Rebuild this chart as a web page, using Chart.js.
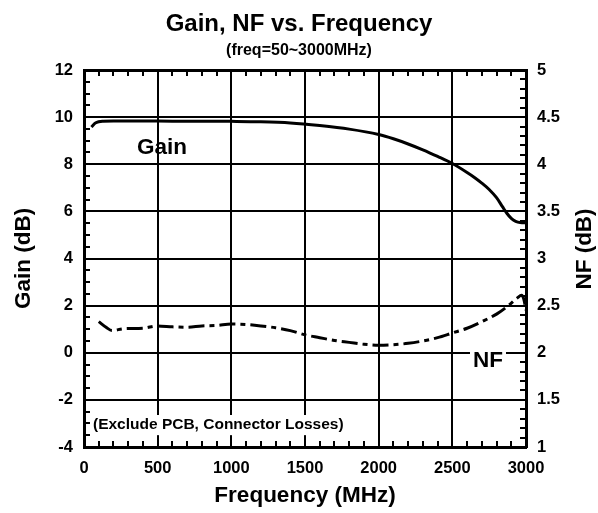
<!DOCTYPE html>
<html><head><meta charset="utf-8">
<script src="https://cdn.jsdelivr.net/npm/chart.js@4/dist/chart.umd.min.js"></script>
<style>html,body{margin:0;padding:0;background:#fff;}#wrap{width:598px;height:513px;}</style>
</head><body><div id="wrap"><canvas id="c" width="598" height="513"></canvas></div>
<script>
// ---- data ----
const gainFreq = [50, 80, 130, 200, 400, 600, 800, 1000, 1200, 1400, 1600, 1800, 2000, 2100, 2200, 2300, 2400, 2500, 2600, 2650, 2700, 2750, 2800, 2840, 2870, 2900, 2930, 2960, 3000];
const gainDb   = [9.58, 9.76, 9.83, 9.84, 9.84, 9.83, 9.83, 9.82, 9.80, 9.75, 9.64, 9.49, 9.26, 9.08, 8.86, 8.61, 8.33, 8.03, 7.65, 7.44, 7.20, 6.93, 6.58, 6.20, 5.92, 5.70, 5.58, 5.53, 5.52];
const nfFreq = [100, 150, 190, 270, 400, 500, 600, 700, 800, 900, 1000, 1100, 1200, 1300, 1400, 1500, 1600, 1700, 1800, 1900, 2000, 2100, 2200, 2300, 2400, 2500, 2600, 2700, 2800, 2880, 2940, 2970, 2985, 3000];
const nfDb   = [2.33, 2.27, 2.235, 2.255, 2.26, 2.285, 2.275, 2.27, 2.285, 2.29, 2.305, 2.30, 2.285, 2.265, 2.235, 2.19, 2.16, 2.13, 2.11, 2.09, 2.08, 2.085, 2.10, 2.125, 2.16, 2.21, 2.26, 2.33, 2.41, 2.50, 2.58, 2.61, 2.57, 2.45];
const freqRange = [0, 3000];
const gainRange = [-4, 12];
const nfRange = [1, 5];
const labelTexts = ['Gain', 'NF', '(Exclude PCB, Connector Losses)'];
const labelAt = [[360, 8.69], [2742, -0.35], [61, -3.07]];

const FAM = "'Liberation Sans', Arial, Helvetica, sans-serif";
const bold = s => ({family: FAM, size: s, weight: 'bold'});
const fmt = v => String(+Number(v).toFixed(2));

const minorTicks = {
  id: 'minorTicks',
  beforeDatasetsDraw(chart) {
    const {ctx, chartArea: a, scales} = chart;
    const L = 6;
    ctx.save(); ctx.strokeStyle = '#000'; ctx.lineWidth = 2; ctx.beginPath();
    for (let v = freqRange[0]; v <= freqRange[1]; v += 100) {
      const p = Math.round(scales.x.getPixelForValue(v));
      ctx.moveTo(p, a.top); ctx.lineTo(p, a.top + L);
      ctx.moveTo(p, a.bottom); ctx.lineTo(p, a.bottom - L);
    }
    for (let v = gainRange[0]; v <= gainRange[1]; v += 0.5) {
      const p = Math.round(scales.y.getPixelForValue(v));
      ctx.moveTo(a.left, p); ctx.lineTo(a.left + L, p);
    }
    for (let i = 0; i <= 40; i++) {
      const v = nfRange[0] + i * 0.1;
      const p = Math.round(scales.y2.getPixelForValue(v));
      ctx.moveTo(a.right, p); ctx.lineTo(a.right - L, p);
    }
    ctx.stroke();
    const fonts = [22.5, 22.5, 15.5];
    const align = ['left', 'center', 'left'];
    const boxed = [false, true, true];
    for (let i = 0; i < labelTexts.length; i++) {
      const x = scales.x.getPixelForValue(labelAt[i][0]);
      const y = scales.y.getPixelForValue(labelAt[i][1]);
      ctx.font = `bold ${fonts[i]}px ${FAM}`;
      const w = ctx.measureText(labelTexts[i]).width;
      const x0 = align[i] === 'left' ? x : x - w / 2;
      if (boxed[i]) {
        ctx.fillStyle = '#fff';
        ctx.fillRect(x0 - 3, y - fonts[i] * 0.65, w + 6, fonts[i] * 1.3);
      }
      ctx.fillStyle = '#000'; ctx.textAlign = 'left'; ctx.textBaseline = 'middle';
      ctx.fillText(labelTexts[i], x0, y);
    }
    ctx.restore();
  },
  afterDraw(chart) {
    const {ctx} = chart;
    ctx.save();
    ctx.translate(585, 249); ctx.rotate(-Math.PI / 2);
    ctx.font = `bold 22.5px ${FAM}`; ctx.fillStyle = '#000';
    ctx.textAlign = 'center'; ctx.textBaseline = 'middle';
    ctx.fillText('NF (dB)', 0, 0);
    ctx.restore();
  }
};

new Chart(document.getElementById('c'), {
  type: 'line',
  data: {
    datasets: [
      { label: 'Gain', data: gainFreq.map((f, i) => ({x: f, y: gainDb[i]})), yAxisID: 'y',
        borderColor: '#000', borderWidth: 3, pointRadius: 0, cubicInterpolationMode: 'monotone', fill: false },
      { label: 'NF', data: nfFreq.map((f, i) => ({x: f, y: nfDb[i]})), yAxisID: 'y2',
        borderColor: '#000', borderWidth: 3, borderDash: [16, 5, 5, 5], pointRadius: 0, cubicInterpolationMode: 'monotone', fill: false }
    ]
  },
  options: {
    responsive: false, animation: false, devicePixelRatio: 1,
    layout: {padding: 0},
    plugins: {
      legend: {display: false}, tooltip: {enabled: false},
      title: {display: true, text: 'Gain, NF vs. Frequency', color: '#000', font: bold(24), padding: {top: 10, bottom: 0}},
      subtitle: {display: true, text: '(freq=50~3000MHz)', color: '#000', font: bold(16), padding: {top: 2.6, bottom: 9.4}}
    },
    scales: {
      x: {
        type: 'linear', position: 'bottom', min: freqRange[0], max: freqRange[1],
        ticks: {stepSize: 500, color: '#000', font: bold(16.5), padding: 12, maxRotation: 0, autoSkip: false, callback: v => String(v)},
        grid: {color: '#000', lineWidth: 2, drawTicks: false},
        border: {color: '#000', width: 3},
        title: {display: true, text: 'Frequency (MHz)', color: '#000', font: bold(22.5), padding: {top: 0, bottom: 4}},
        afterFit: s => { s.height = 66; }
      },
      y: {
        position: 'left', min: gainRange[0], max: gainRange[1],
        ticks: {stepSize: 2, color: '#000', font: bold(16.5), padding: 11, callback: fmt},
        grid: {color: '#000', lineWidth: c => (c.tick && c.tick.value === gainRange[1]) ? 3 : 2, drawTicks: false},
        border: {color: '#000', width: 3},
        title: {display: true, text: 'Gain (dB)', color: '#000', font: bold(22.5), padding: {top: 10, bottom: 0}},
        afterFit: s => { s.width = 84; }
      },
      y2: {
        position: 'right', min: nfRange[0], max: nfRange[1],
        ticks: {stepSize: 0.5, color: '#000', font: bold(16.5), padding: 11, callback: fmt},
        grid: {drawOnChartArea: false, drawTicks: false},
        border: {color: '#000', width: 3},
        title: {display: false},
        afterFit: s => { s.width = 72; }
      }
    }
  },
  plugins: [minorTicks]
});
</script>
</body></html>
